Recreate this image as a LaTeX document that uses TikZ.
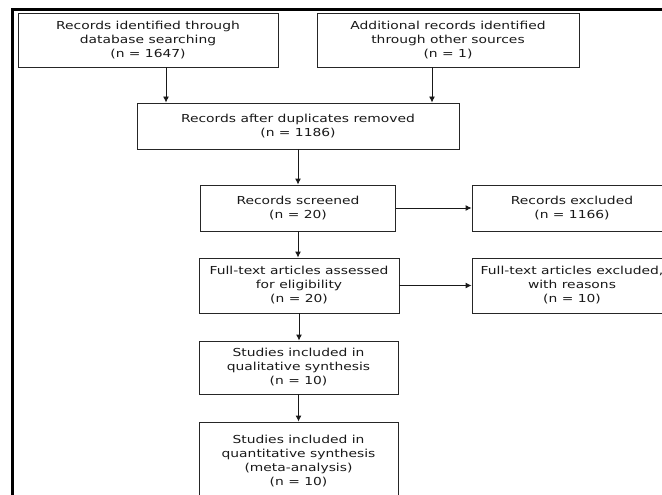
\documentclass[tikz,border=0pt]{standalone}
\usepackage{fontspec}
\setmainfont{DejaVu Sans}[FakeStretch=1.26]
\usetikzlibrary{arrows.meta}
\tikzset{
  flowbox/.style={draw=black!85, line width=0.9pt, fill=white, align=center,
    inner sep=0pt, text=black!90, font=\fontsize{11}{14}\selectfont},
  flowarrow/.style={line width=0.9pt, draw=black!90,
    -{Latex[length=6pt,width=6pt]}}
}
\begin{document}
\begin{tikzpicture}[x=1pt, y=-1pt]
% Page size of the picture
\useasboundingbox (0,0) rectangle (662,495);
\clip (0,0) rectangle (662,495);

% Outer frame (left and top)
\draw[line width=3pt] (12.5,510) -- (12.5,9.5) -- (680,9.5);

% Identification
\node[flowbox, minimum width=260, minimum height=54] (ident) at (148,40)
  {Records identified through\\database searching\\(n = 1647)};
\node[flowbox, minimum width=262, minimum height=54] (other) at (448,40)
  {Additional records identified\\through other sources\\(n = 1)};

% Screening
\node[flowbox, minimum width=322, minimum height=46] (dupl) at (298,126)
  {Records after duplicates removed\\(n = 1186)};
\node[flowbox, minimum width=195, minimum height=46] (screen) at (298,208)
  {Records screened\\(n = 20)};
\node[flowbox, minimum width=200, minimum height=46] (excl) at (572,208)
  {Records excluded\\(n = 1166)};

% Eligibility
\node[flowbox, minimum width=200, minimum height=55] (full) at (299,285.5)
  {Full-text articles assessed\\for eligibility\\(n = 20)};
\node[flowbox, minimum width=200, minimum height=55] (fullexcl) at (572,285.5)
  {Full-text articles excluded,\\with reasons\\(n = 10)};

% Included
\node[flowbox, minimum width=199, minimum height=53] (qual) at (298.5,367.5)
  {Studies included in\\qualitative synthesis\\(n = 10)};
\node[flowbox, minimum width=199, minimum height=78] (quant) at (298.5,461)
  {Studies included in\\quantitative synthesis\\(meta-analysis)\\(n = 10)};

% Connectors
\draw[flowarrow] ([xshift=18]ident.south) -- ([xshift=18]ident.south |- dupl.north);
\draw[flowarrow] ([xshift=-16]other.south) -- ([xshift=-16]other.south |- dupl.north);
\draw[flowarrow] (dupl.south) -- (dupl.south |- screen.north);
\draw[flowarrow] (screen.east) -- (excl.west);
\draw[flowarrow] (screen.south) -- (screen.south |- full.north);
\draw[flowarrow] (full.east) -- (full.east -| fullexcl.west);
\draw[flowarrow] (full.south) -- (full.south |- qual.north);
\draw[flowarrow] (qual.south) -- (qual.south |- quant.north);
\end{tikzpicture}
\end{document}
